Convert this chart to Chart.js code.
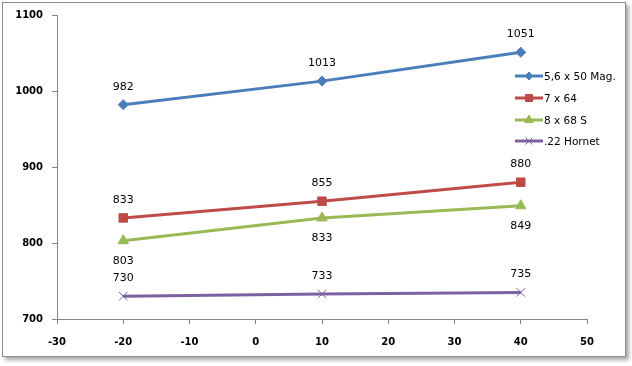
<!DOCTYPE html>
<html>
<head>
<meta charset="utf-8">
<script src="https://cdn.jsdelivr.net/npm/chart.js@4/dist/chart.umd.min.js"></script>
<style>
  body { margin: 0; background: #fff; }
  #frame {
    position: absolute; left: 2px; top: 2px; width: 622px; height: 353px;
    border: 1px solid #8c8c8c; background: #fff;
    box-shadow: 3px 3px 4px rgba(0,0,0,0.35);
  }
  #wrap { position: absolute; left: 0; top: 0; width: 632px; height: 366px; }
</style>
</head>
<body>
<div id="frame"></div>
<div id="wrap"><canvas id="chart" width="632" height="366"></canvas></div>
<script>
// distances (x) and velocities per cartridge
const xValues = [-20, 10, 40];
const seriesNames = ['5,6 x 50 Mag.', '7 x 64', '8 x 68 S', '.22 Hornet'];
const mag56 = [982, 1013, 1051];
const k764 = [833, 855, 880];
const s868 = [803, 833, 849];
const hornet22 = [730, 733, 735];
const labelSide = [
  ['up', 'up', 'up'],
  ['up', 'up', 'up'],
  ['down', 'down', 'down'],
  ['up', 'up', 'up']
];
const colors = ['#4a7ebb', '#be4b48', '#98b954', '#7d60a0'];
const markers = ['rectRot', 'rect', 'triangle', 'crossRot'];
const markerSizes = [5, 6, 6, 6];

const allSeries = [mag56, k764, s868, hornet22];

function toPoints(vals) {
  return vals.map((v, i) => ({ x: xValues[i], y: v }));
}

const datasets = allSeries.map((vals, i) => ({
  label: seriesNames[i],
  data: toPoints(vals),
  borderColor: colors[i],
  backgroundColor: colors[i],
  borderWidth: 3,
  pointStyle: markers[i],
  pointRadius: markerSizes[i],
  pointBorderWidth: 1,
  tension: 0
}));

// value labels next to each point
const valueLabels = {
  id: 'valueLabels',
  afterDatasetsDraw(chart) {
    const ctx = chart.ctx;
    ctx.save();
    ctx.font = '11px "DejaVu Sans"';
    ctx.fillStyle = '#000';
    ctx.textAlign = 'center';
    ctx.textBaseline = 'middle';
    chart.data.datasets.forEach((ds, i) => {
      chart.getDatasetMeta(i).data.forEach((pt, j) => {
        const dy = labelSide[i][j] === 'up' ? -18 : 20;
        ctx.fillText(String(ds.data[j].y), pt.x, pt.y + dy);
      });
    });
    ctx.restore();
  }
};

// legend floating over the plot on the right
const floatLegend = {
  id: 'floatLegend',
  afterDraw(chart) {
    const ctx = chart.ctx;
    const rows = [76, 98, 120, 141];
    ctx.save();
    ctx.font = '10.5px "DejaVu Sans"';
    ctx.textBaseline = 'middle';
    ctx.textAlign = 'left';
    seriesNames.forEach((name, i) => {
      const y = rows[i];
      ctx.strokeStyle = colors[i];
      ctx.fillStyle = colors[i];
      ctx.lineWidth = 3;
      ctx.beginPath();
      ctx.moveTo(515, y);
      ctx.lineTo(543, y);
      ctx.stroke();
      ctx.lineWidth = 1;
      Chart.helpers.drawPoint(ctx, {
        pointStyle: markers[i], radius: markerSizes[i] - 1, rotation: 0, borderWidth: 1
      }, 529, y);
      ctx.fillStyle = '#000';
      ctx.fillText(name, 544, y + 1);
    });
    ctx.restore();
  }
};

const tickFont = { family: 'DejaVu Sans', size: 10, weight: 'bold' };

new Chart(document.getElementById('chart'), {
  type: 'line',
  data: { datasets: datasets },
  options: {
    responsive: false,
    animation: false,
    layout: { padding: { left: 0, top: 15, right: 45, bottom: 17 } },
    plugins: {
      legend: { display: false },
      tooltip: { enabled: false }
    },
    scales: {
      x: {
        type: 'linear',
        min: -30, max: 50,
        ticks: { stepSize: 10, padding: 12, color: '#000', font: tickFont },
        grid: { drawOnChartArea: false, drawTicks: true, tickLength: 5, color: '#868686' },
        border: { color: '#868686', width: 1 },
        afterFit(scale) { scale.height = 30; }
      },
      y: {
        min: 700, max: 1100,
        ticks: { stepSize: 100, padding: 9, color: '#000', font: tickFont, callback: v => String(v) },
        grid: { drawOnChartArea: false, drawTicks: true, tickLength: 5, color: '#868686' },
        border: { color: '#868686', width: 1 },
        afterFit(scale) { scale.width = 57; }
      }
    }
  },
  plugins: [valueLabels, floatLegend]
});
</script>
</body>
</html>
